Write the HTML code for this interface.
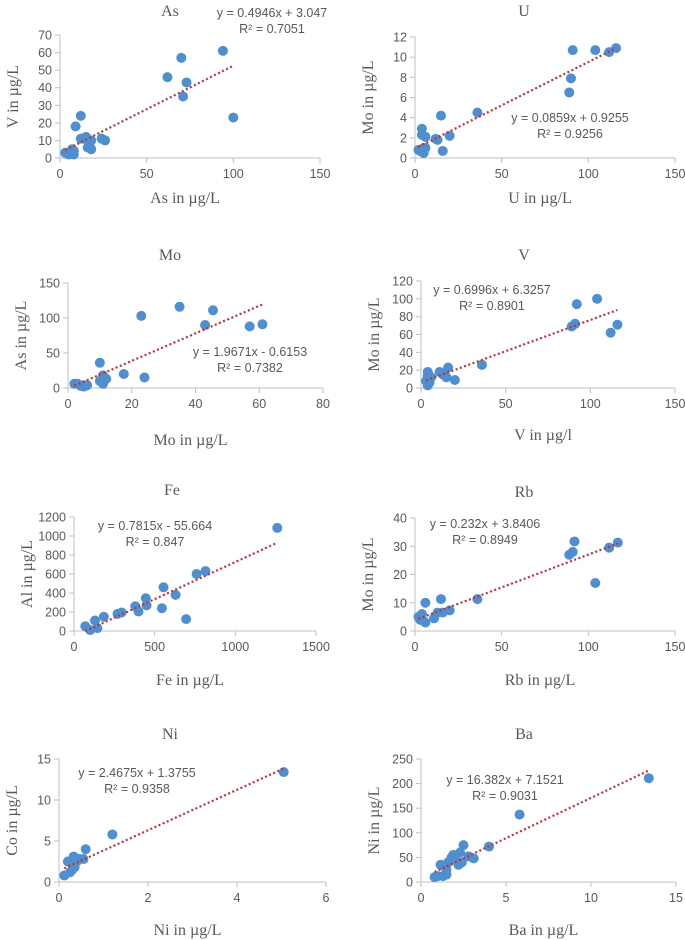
<!DOCTYPE html>
<html><head><meta charset="utf-8"><style>
body{margin:0;background:#fff;width:685px;height:940px;overflow:hidden}
svg{display:block}
.tk{font-family:"Liberation Sans",sans-serif;font-size:12.5px;fill:#595959}
.ser{font-family:"Liberation Serif",serif;font-size:16px;fill:#595959}
.eq{font-family:"Liberation Sans",sans-serif;font-size:12.5px;fill:#595959}
</style></head><body>
<svg id="c" width="685" height="940"></svg>
<script>
const asX=[3,5,7,8,8,7,9,12,12,14,15,16,18,18,17,24,26,62,70,71,73,94,100];
const asY=[3,2,3,2,4,5,18,24,11,11,12,6,5,10,8,11,10,46,57,35,43,61,23];
const uX=[2,3,4,4,5,5,6,6,12,13,15,16,20,36,89,90,91,104,112,116];
const uY=[0.8,0.7,2.9,2.3,1.0,0.5,2.1,1.0,1.9,1.8,4.2,0.7,2.2,4.5,6.5,7.9,10.7,10.7,10.5,10.9];
const moX=[2,3,4,5,5,6,10,10,11,11,12,11,17.5,23,24,35,43,45.5,57,61];
const moY=[6,6,3,2,4,4,36,10,14,6,13,18,20,103,15,116,90,111,88,91];
const vX=[3,4,4,4,5,5,6,11,13,15,16,20,36,89,91,92,104,112,116];
const vY=[8,18,14,3,10,6,12,18,15,12,23,9,26,69,72,94,100,62,71];
const feX=[70,100,130,145,185,270,295,380,400,445,450,545,555,630,695,760,815,1260];
const feY=[50,10,110,30,150,180,195,260,205,345,270,240,460,380,125,600,630,1085];
const rbX=[2,3,4,5,6,6,11,13,15,16,20,36,89,91,92,104,112,117];
const rbY=[5,4,6,3.5,3,10,4.5,6.5,11.3,6.5,7.3,11.3,27,28,31.7,17,29.5,31.3];
const niX=[0.12,0.2,0.25,0.3,0.3,0.33,0.35,0.4,0.45,0.55,0.6,1.2,5.05];
const niY=[0.8,2.5,1.2,1.5,2.2,3.1,1.8,2.5,2.8,2.8,4,5.8,13.4];
const baX=[0.8,1,1.15,1.3,1.5,1.5,1.6,1.8,1.9,2,2.2,2.3,2.4,2.5,2.8,3.1,4,5.8,13.4];
const baY=[10,12,35,12,15,25,40,50,55,45,35,60,40,75,52,48,72,137,211];
const panels=[
 {id:'as',t:'As',tx:170,ty:16,x:asX,y:asY,xmax:150,xs:50,ymax:70,ys:10,px:[60,320],py:[35,158],m:0.4946,b:3.047,eq:['y = 0.4946x + 3.047','R² = 0.7051'],ex:272,ey:17,xl:'As in µg/L',xly:203,yl:'V in µg/L'},
 {id:'u',t:'U',tx:524,ty:16,x:uX,y:uY,xmax:150,xs:50,ymax:12,ys:2,px:[415,675],py:[37,158],m:0.0859,b:0.9255,eq:['y = 0.0859x + 0.9255','R² = 0.9256'],ex:570,ey:122,xl:'U in µg/L',xly:203,yl:'Mo  in µg/L'},
 {id:'mo',t:'Mo',tx:170,ty:260,x:moX,y:moY,xmax:80,xs:20,ymax:150,ys:50,px:[68,323],py:[283,388],m:1.9671,b:-0.6153,eq:['y = 1.9671x - 0.6153','R² = 0.7382'],ex:250,ey:356,xl:'Mo in µg/L',xly:445,yl:'As in µg/L'},
 {id:'v',t:'V',tx:524,ty:260,x:vX,y:vY,xmax:150,xs:50,ymax:120,ys:20,px:[421,675],py:[281,388],m:0.6996,b:6.3257,eq:['y = 0.6996x + 6.3257','R² = 0.8901'],ex:492,ey:294,xl:'V in µg/l',xly:440,yl:'Mo in µg/L'},
 {id:'fe',t:'Fe',tx:172,ty:495,x:feX,y:feY,xmax:1500,xs:500,ymax:1200,ys:200,px:[74,316],py:[517,631],m:0.7815,b:-55.664,eq:['y = 0.7815x - 55.664','R² = 0.847'],ex:155,ey:530,xl:'Fe in µg/L',xly:685,yl:'Al in µg/L'},
 {id:'rb',t:'Rb',tx:524,ty:497,x:rbX,y:rbY,xmax:150,xs:50,ymax:40,ys:10,px:[415,675],py:[518,631],m:0.232,b:3.8406,eq:['y = 0.232x + 3.8406','R² = 0.8949'],ex:485,ey:528,xl:'Rb in µg/L',xly:685,yl:'Mo in µg/L'},
 {id:'ni',t:'Ni',tx:170,ty:739,x:niX,y:niY,xmax:6,xs:2,ymax:15,ys:5,px:[59,326],py:[759,882],m:2.4675,b:1.3755,eq:['y = 2.4675x + 1.3755','R² = 0.9358'],ex:137,ey:777,xl:'Ni in µg/L',xly:935,yl:'Co in µg/L'},
 {id:'ba',t:'Ba',tx:524,ty:739,x:baX,y:baY,xmax:15,xs:5,ymax:250,ys:50,px:[421,676],py:[759,882],m:16.382,b:7.1521,eq:['y = 16.382x + 7.1521','R² = 0.9031'],ex:505,ey:784,xl:'Ba in µg/L',xly:935,yl:'Ni in µg/L'}
];
const NS='http://www.w3.org/2000/svg';
const svg=document.getElementById('c');
function mk(tag,at,parent,txt){const e=document.createElementNS(NS,tag);for(const k in at)e.setAttribute(k,at[k]);if(txt!==undefined)e.textContent=txt;parent.appendChild(e);return e;}
panels.forEach(p=>{
 const g=mk('g',{},svg);
 
 
 const sx=v=>p.px[0]+v/p.xmax*(p.px[1]-p.px[0]);
 const sy=v=>p.py[1]-v/p.ymax*(p.py[1]-p.py[0]);
 const t=mk('text',{x:p.tx,y:p.ty,class:'ser','text-anchor':'middle'},g,p.t);
 
 
 const ax=mk('line',{x1:p.px[0],y1:p.py[1],x2:p.px[1],y2:p.py[1],stroke:'#bfbfbf','stroke-width':1},g);
 
 
 const ay=mk('line',{x1:p.px[0],y1:p.py[0],x2:p.px[0],y2:p.py[1],stroke:'#bfbfbf','stroke-width':1},g);
 
 
 for(let v=0;v<=p.xmax+1e-9;v+=p.xs){
  mk('line',{x1:sx(v),y1:p.py[1],x2:sx(v),y2:p.py[1]+5,stroke:'#bfbfbf'},g);
  const l=mk('text',{x:sx(v),y:p.py[1]+20,class:'tk','text-anchor':'middle'},g,String(v));
  
  
 }
 for(let v=0;v<=p.ymax+1e-9;v+=p.ys){
  mk('line',{x1:p.px[0]-5,y1:sy(v),x2:p.px[0],y2:sy(v),stroke:'#bfbfbf'},g);
  const l=mk('text',{x:p.px[0]-8,y:sy(v)+4.5,class:'tk','text-anchor':'end'},g,String(v));
  
  
 }
 const xl=mk('text',{x:(p.px[0]+p.px[1])/2-5,y:p.xly,class:'ser','text-anchor':'middle'},g,p.xl);
 
 
 const yc=(p.py[0]+p.py[1])/2, yx=p.px[0]-42;
 const yl=mk('text',{x:yx,y:yc,class:'ser','text-anchor':'middle',transform:`rotate(-90 ${yx} ${yc})`},g,p.yl);
 
 
 p.x.forEach((xv,i)=>{
  const c=mk('circle',{cx:sx(xv),cy:sy(p.y[i]),r:5,fill:'#4f8fcf'},g);
  
  
 });
 const x0=Math.min(...p.x),x1=Math.max(...p.x);
 const tl=mk('line',{x1:sx(x0),y1:sy(p.m*x0+p.b),x2:sx(x1),y2:sy(p.m*x1+p.b),stroke:'#c0303a','stroke-width':2.2,'stroke-dasharray':'2 2.5'},g);
 
 
 p.eq.forEach((s,i)=>{
  const e=mk('text',{x:p.ex,y:p.ey+i*16,class:'eq','text-anchor':'middle'},g,s);
  
  
 });
});
</script>
</body></html>
